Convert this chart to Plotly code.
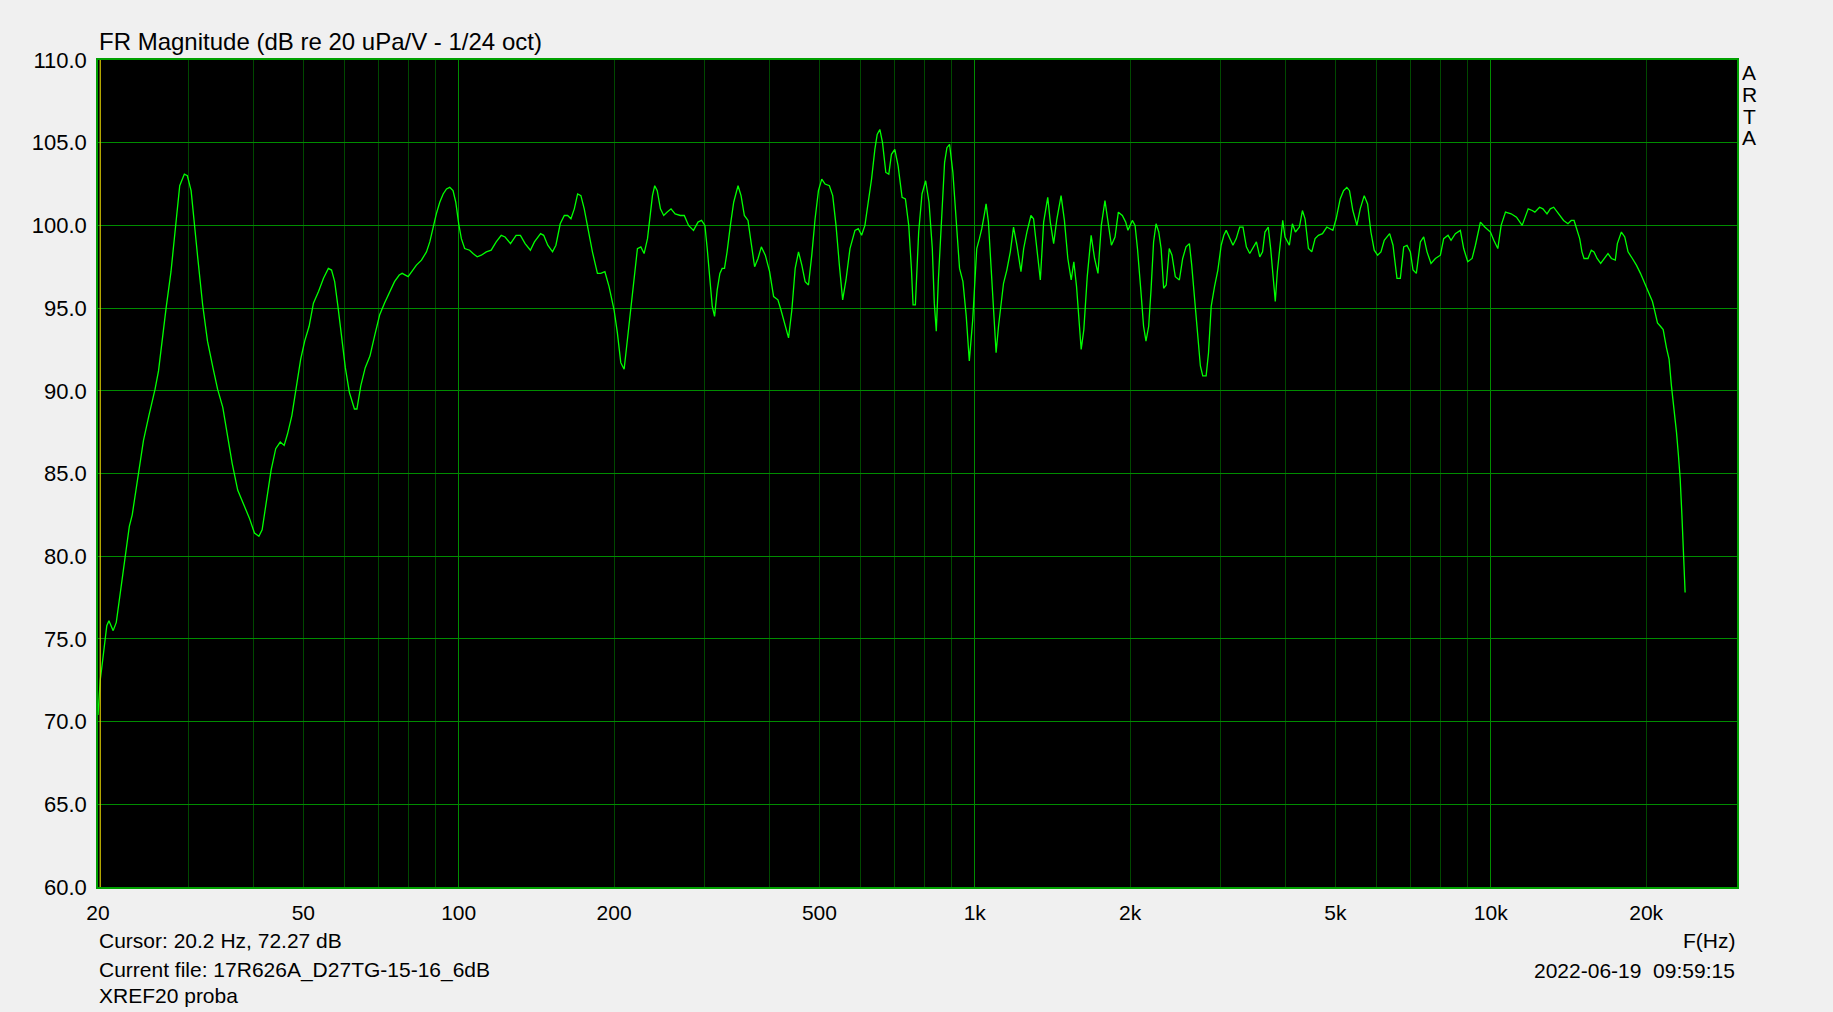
import numpy as np
import plotly.graph_objects as go

# ARTA frequency response
freq_hz = [
    20.0, 20.2, 20.4, 20.6, 20.8, 21.0, 21.4, 21.7, 22.0, 22.5, 23.0, 23.3, 24.0, 24.5,
    25.1, 25.8, 26.2, 26.6, 27.1, 27.7, 28.3, 28.8, 29.4, 29.8, 30.3, 30.7, 31.2, 31.9,
    32.6, 33.4, 34.1, 34.9, 35.6, 36.4, 37.3, 38.4, 39.3, 40.2, 41.0, 41.6, 42.5, 43.3,
    44.2, 45.1, 45.9, 46.6, 47.5, 48.4, 49.4, 50.3, 51.3, 52.3, 53.5, 54.7, 55.9, 56.7,
    57.5, 58.4, 59.3, 60.3, 61.4, 62.8, 63.5, 64.6, 65.9, 67.3, 68.8, 70.3, 71.8, 73.4,
    75.1, 76.7, 77.7, 79.8, 81.0, 82.8, 84.7, 86.6, 87.9, 89.2, 90.5, 91.9, 93.3, 94.7,
    96.1, 97.5, 98.7, 100.0, 101.2, 102.7, 105.0, 106.6, 108.6, 110.6, 113.1, 115.6,
    118.2, 120.9, 123.0, 126.0, 129.2, 131.7, 134.5, 137.7, 140.2, 144.1, 146.1, 148.8,
    152.0, 154.3, 157.3, 160.2, 162.6, 165.0, 167.5, 170.0, 172.5, 175.1, 177.6, 181.6,
    185.7, 188.5, 192.0, 195.6, 200.0, 203.0, 206.1, 209.2, 212.3, 215.5, 218.7, 222.0,
    225.4, 228.7, 232.2, 234.9, 237.4, 239.8, 242.5, 246.0, 249.6, 253.3, 257.9, 262.7,
    268.8, 273.6, 278.9, 285.1, 290.9, 295.5, 300.0, 303.1, 306.7, 310.0, 313.2, 316.9,
    320.7, 324.0, 327.4, 331.2, 336.1, 341.1, 347.8, 352.5, 357.7, 363.6, 368.5, 374.5,
    380.2, 385.9, 392.8, 400.4, 407.6, 415.5, 421.1, 429.3, 435.7, 442.2, 448.8, 455.5,
    462.3, 469.2, 476.2, 483.3, 490.5, 497.9, 505.3, 512.8, 522.8, 530.6, 538.5, 546.6,
    554.7, 563.0, 573.1, 586.0, 594.7, 603.6, 612.6, 621.7, 631.0, 640.4, 647.1, 654.8,
    662.6, 672.5, 681.5, 689.6, 700.0, 710.4, 723.1, 733.9, 744.9, 753.8, 759.4, 767.3,
    778.7, 790.3, 803.3, 815.4, 827.5, 834.9, 842.3, 849.9, 861.3, 874.1, 883.2, 893.8,
    907.1, 920.6, 934.4, 948.7, 962.8, 976.0, 991, 1001, 1009, 1021, 1032, 1043, 1052,
    1063, 1075, 1087, 1100, 1112, 1125, 1137, 1154, 1172, 1189, 1207, 1229, 1244, 1262,
    1285, 1300, 1320, 1340, 1360, 1385, 1401, 1422, 1443, 1470, 1492, 1515, 1538, 1556,
    1575, 1591, 1608, 1627, 1652, 1681, 1707, 1733, 1759, 1788, 1813, 1840, 1870, 1898,
    1932, 1961, 1981, 2020, 2045, 2067, 2098, 2124, 2147, 2173, 2196, 2221, 2246, 2273,
    2297, 2323, 2350, 2382, 2411, 2447, 2492, 2529, 2567, 2606, 2633, 2673, 2705, 2737,
    2766, 2808, 2838, 2872, 2915, 2959, 3003, 3039, 3071, 3117, 3165, 3212, 3261, 3310,
    3360, 3411, 3463, 3514, 3567, 3612, 3651, 3705, 3745, 3789, 3823, 3858, 3905, 3952,
    3993, 4071, 4126, 4182, 4257, 4315, 4366, 4432, 4499, 4566, 4634, 4719, 4811, 4943,
    5016, 5107, 5184, 5261, 5324, 5404, 5502, 5584, 5685, 5771, 5857, 5945, 6035, 6126,
    6217, 6368, 6464, 6580, 6679, 6780, 6881, 6984, 7068, 7174, 7303, 7413, 7524, 7659,
    7810, 7986, 8104, 8264, 8375, 8537, 8730, 8861, 9023, 9200, 9337, 9548, 9735, 9985,
    10135, 10318, 10473, 10678, 10951, 11216, 11503, 11817, 12031, 12174, 12430, 12620,
    12850, 13040, 13240, 13400, 13600, 13840, 14110, 14320, 14500, 14690, 14870, 15020,
    15160, 15430, 15660, 15850, 16070, 16330, 16580, 16870, 17130, 17430, 17590, 17910,
    18180, 18450, 18810, 19150, 19500, 19880, 20270, 20570, 20790, 21040, 21320, 21580,
    21900, 22160, 22390, 22630, 22900, 23100, 23280, 23460, 23590, 23700, 23800,
]
mag_db = [
    70.4, 72.5, 73.6, 74.9, 75.8, 76.1, 75.5, 76.0, 77.4, 79.8, 81.8, 82.5, 85.0, 87.0,
    88.5, 90.1, 91.2, 93.0, 95.0, 97.2, 100.1, 102.4, 103.1, 103.0, 102.1, 100.1, 98.1, 95.2,
    93.0, 91.4, 90.1, 89.0, 87.4, 85.6, 84.0, 83.1, 82.3, 81.4, 81.2, 81.6, 83.4, 85.2,
    86.5, 86.9, 86.7, 87.4, 88.5, 90.1, 91.9, 93.0, 93.9, 95.3, 96.0, 96.8, 97.4, 97.3,
    96.6, 95.0, 93.2, 91.4, 89.9, 88.9, 88.9, 90.3, 91.4, 92.1, 93.4, 94.6, 95.3, 95.9,
    96.6, 97.0, 97.1, 96.9, 97.2, 97.6, 97.9, 98.4, 99.0, 99.9, 100.7, 101.4, 101.9, 102.2,
    102.3, 102.1, 101.4, 100.1, 99.2, 98.6, 98.5, 98.3, 98.1, 98.2, 98.4, 98.5,
    99.0, 99.4, 99.3, 98.9, 99.4, 99.4, 98.9, 98.5, 99.0, 99.5, 99.4, 98.8,
    98.4, 98.8, 100.1, 100.6, 100.6, 100.4, 101.0, 101.9, 101.8, 101.0, 99.9, 98.4,
    97.1, 97.1, 97.2, 96.3, 94.9, 93.5, 91.7, 91.3, 93.1, 94.9, 96.7, 98.6,
    98.7, 98.3, 99.2, 100.6, 101.8, 102.4, 102.1, 101.0, 100.6, 100.8, 101.0, 100.7,
    100.6, 100.6, 100.0, 99.7, 100.2, 100.3, 100.0, 98.6, 96.7, 95.1, 94.5, 96.1,
    97.1, 97.4, 97.4, 98.4, 100.0, 101.4, 102.4, 101.8, 100.6, 100.3, 99.0, 97.5,
    98.0, 98.7, 98.2, 97.2, 95.7, 95.5, 94.9, 93.9, 93.2, 94.9, 97.4, 98.4,
    97.6, 96.6, 96.4, 98.2, 100.4, 102.1, 102.8, 102.5, 102.4, 101.8, 100.0, 97.6,
    95.5, 96.7, 98.6, 99.7, 99.8, 99.4, 100.0, 101.4, 102.8, 104.6, 105.5, 105.8,
    105.0, 103.2, 103.1, 104.3, 104.6, 103.6, 101.7, 101.6, 100.0, 97.4, 95.2, 95.2,
    99.6, 101.9, 102.7, 101.4, 98.6, 95.3, 93.6, 96.6, 100.4, 103.8, 104.7, 104.9,
    103.2, 100.2, 97.4, 96.6, 94.5, 91.8, 94.3, 96.7, 98.6, 99.2, 99.8, 100.6, 101.3,
    100.2, 97.4, 94.7, 92.3, 93.9, 95.3, 96.5, 97.3, 98.4, 99.9, 98.8, 97.2, 98.6, 99.6,
    100.6, 100.4, 98.6, 96.7, 100.2, 101.7, 100.2, 98.9, 100.4, 101.8, 100.3, 98.0, 96.7, 97.8,
    96.3, 94.5, 92.5, 93.7, 96.9, 99.4, 98.0, 97.1, 100.0, 101.5, 100.2, 98.8, 99.3, 100.8,
    100.6, 100.2, 99.7, 100.3, 100.0, 98.6, 96.1, 93.9, 93.0, 93.9, 96.1, 99.0, 100.1, 99.6,
    98.6, 96.2, 96.4, 98.6, 98.2, 96.9, 96.7, 98.0, 98.7, 98.9, 97.6, 95.1, 93.1, 91.5,
    90.9, 90.9, 92.3, 95.1, 96.3, 97.3, 98.8, 99.4, 99.7, 99.2, 98.8, 99.2, 99.9, 99.9,
    98.7, 98.3, 98.7, 99.0, 98.1, 98.4, 99.6, 99.9, 98.6, 96.5, 95.4, 97.2, 98.8, 100.3,
    99.3, 98.8, 100.1, 99.6, 99.9, 100.9, 100.4, 98.6, 98.4, 99.2, 99.4, 99.5, 99.9, 99.7,
    100.4, 101.6, 102.1, 102.3, 102.1, 100.9, 100.0, 101.0, 101.8, 101.3, 99.6, 98.5, 98.2, 98.4,
    99.1, 99.5, 98.8, 96.8, 96.8, 98.7, 98.8, 98.4, 97.3, 97.1, 99.0, 99.3, 98.4, 97.7,
    98.0, 98.2, 99.2, 99.4, 99.1, 99.5, 99.7, 98.6, 97.8, 98.0, 98.8, 100.2, 99.9, 99.6,
    99.1, 98.6, 100.0, 100.8, 100.7, 100.5, 100.0, 101.0, 100.9, 100.8, 101.1, 101.0,
    100.7, 101.0, 101.1, 100.9, 100.6, 100.3, 100.1, 100.3, 100.3, 99.8, 99.2, 98.4,
    98.0, 98.0, 98.5, 98.4, 98.0, 97.7, 98.0, 98.3, 98.0, 97.9, 98.9, 99.6,
    99.3, 98.4, 98.0, 97.6, 97.1, 96.5, 95.8, 95.4, 94.8, 94.1, 93.9, 93.7,
    92.6, 91.9, 90.3, 89.1, 87.5, 86.1, 84.7, 82.5, 80.7, 79.1, 77.8,
]

x_tick_vals = [20, 50, 100, 200, 500, 1000, 2000, 5000, 10000, 20000]
x_tick_text = ["20", "50", "100", "200", "500", "1k", "2k", "5k", "10k", "20k"]
decade_lines = [100, 1000, 10000]
x_minor_vals = [30, 40, 50, 60, 70, 80, 90,
                200, 300, 400, 500, 600, 700, 800, 900,
                2000, 3000, 4000, 5000, 6000, 7000, 8000, 9000, 20000]
cursor_hz = 20.2

BG = "#F0F0F0"
GRID_BRIGHT = "#008C00"
GRID_DARK = "#004800"
FONT = "Liberation Sans, Arial, sans-serif"

# plot area in pixels (window 1833 x 1012)
W, H = 1833, 1012
L, R, T, B = 98, 1737, 60, 887
x_range = [np.log10(20), np.log10(30000)]


def px(x, y):
    return (x - L) / (R - L), (B - y) / (B - T)


fig = go.Figure()
fig.add_trace(go.Scatter(x=freq_hz, y=mag_db, mode="lines",
                         line=dict(color="#00FF00", width=1.3),
                         hoverinfo="skip"))
# empty trace so the label axis (x2) gets drawn
fig.add_trace(go.Scatter(x=[], y=[], xaxis="x2", yaxis="y", hoverinfo="skip"))

fig.add_vline(x=cursor_hz, line=dict(color="#D8C800", width=1.2), layer="above")

texts = [
    ("FR Magnitude (dB re 20 uPa/V - 1/24 oct)", 97, 41, "left", 24),
    ("Cursor: 20.2 Hz, 72.27 dB", 97, 941, "left", 21),
    ("F(Hz)", 1737, 941, "right", 21),
    ("Current file: 17R626A_D27TG-15-16_6dB", 97, 970, "left", 21),
    ("2022-06-19\u00a0\u00a009:59:15", 1737, 970, "right", 21),
    ("XREF20 proba", 97, 995, "left", 21),
]
for i, ch in enumerate("ARTA"):
    texts.append((ch, 1749, 72.5 + i * 21.8, "center", 21))

for txt, x, y, anchor, size in texts:
    ax_, ay_ = px(x, y)
    fig.add_annotation(text=txt, x=ax_, y=ay_, xref="paper", yref="paper",
                       xanchor=anchor, yanchor="middle", showarrow=False,
                       font=dict(family=FONT, size=size, color="#000000"))

fig.update_layout(
    width=W, height=H,
    margin=dict(l=L, r=W - R, t=T, b=H - B),
    paper_bgcolor=BG, plot_bgcolor="#000000",
    showlegend=False,
    font=dict(family=FONT, size=21, color="#000000"),
    # grid axis: bright decades, dark minor lines
    xaxis=dict(type="log", range=x_range,
               tickvals=decade_lines, showticklabels=False, ticks="",
               showgrid=True, gridcolor=GRID_BRIGHT, gridwidth=1.2,
               minor=dict(tickvals=x_minor_vals, showgrid=True,
                          gridcolor=GRID_DARK, gridwidth=1.2, ticks=""),
               showline=True, mirror=True, linecolor="#00A000", linewidth=1.5,
               zeroline=False, fixedrange=True),
    # label axis
    xaxis2=dict(type="log", range=x_range, overlaying="x", anchor="y", side="bottom",
                tickvals=x_tick_vals, ticktext=x_tick_text, ticks="",
                ticklabelstandoff=11, showgrid=False, showline=False,
                zeroline=False, fixedrange=True),
    yaxis=dict(range=[60, 110], dtick=5, tick0=60, tickformat=".1f", ticks="",
               ticklabelstandoff=5, tickfont=dict(size=22),
               showgrid=True, gridcolor=GRID_BRIGHT, gridwidth=1.2,
               showline=True, mirror=True, linecolor="#00A000", linewidth=1.5,
               zeroline=False, fixedrange=True),
)

fig.write_html("out.html", config={"displayModeBar": False},
               post_script="document.body.style.margin='0';")
